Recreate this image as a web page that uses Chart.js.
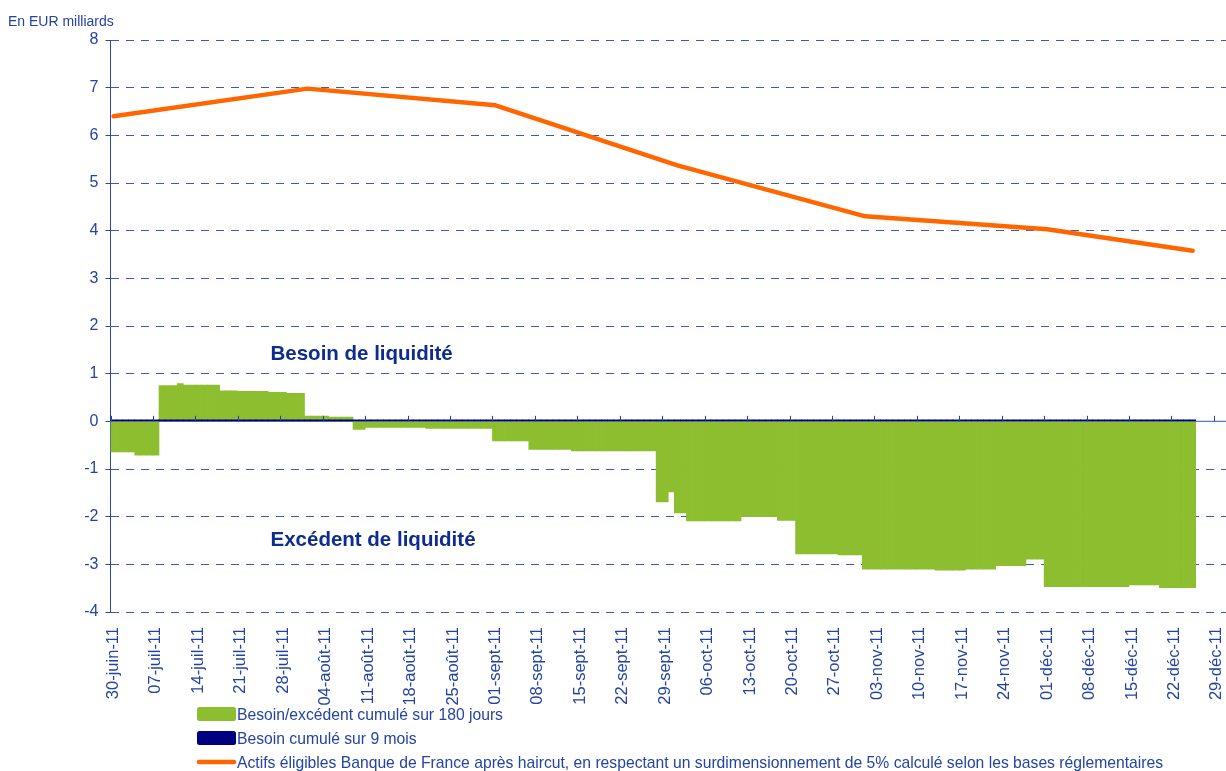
<!DOCTYPE html>
<html>
<head>
<meta charset="utf-8">
<script src="https://cdn.jsdelivr.net/npm/chart.js@4/dist/chart.umd.min.js"></script>
<style>
  html, body { margin: 0; padding: 0; background: #ffffff; }
  #wrap { position: relative; width: 1226px; height: 771px; }
</style>
</head>
<body>
<div id="wrap"><canvas id="c" width="1226" height="771"></canvas></div>
<script>
// ---- DATA ----
// weekly tick labels (every 7th day starting 30-juin-11)
const tickLabels = ["30-juin-11","07-juil-11","14-juil-11","21-juil-11","28-juil-11","04-août-11","11-août-11","18-août-11","25-août-11","01-sept-11","08-sept-11","15-sept-11","22-sept-11","29-sept-11","06-oct-11","13-oct-11","20-oct-11","27-oct-11","03-nov-11","10-nov-11","17-nov-11","24-nov-11","01-déc-11","08-déc-11","15-déc-11","22-déc-11","29-déc-11"];

// daily values, day 0 = 30-juin-11 ... day 178 = 25-déc-11
const besoin180 = [
  -0.64,-0.64,-0.64,-0.64,-0.71,-0.71,-0.71,-0.71,
  0.75,0.75,0.75,0.79,0.76,0.76,0.76,0.76,0.76,0.76,
  0.64,0.64,0.64,0.63,0.63,0.63,0.63,0.63,0.61,0.61,0.61,0.59,0.59,0.59,
  0.11,0.11,0.11,0.11,0.09,0.09,0.09,0.09,
  -0.17,-0.17,
  -0.13,-0.13,-0.13,-0.13,-0.13,-0.13,-0.13,-0.13,-0.13,-0.13,
  -0.15,-0.15,-0.15,-0.15,-0.15,-0.15,-0.15,-0.15,-0.15,-0.15,-0.15,
  -0.41,-0.41,-0.41,-0.41,-0.41,-0.41,
  -0.59,-0.59,-0.59,-0.59,-0.59,-0.59,-0.59,
  -0.62,-0.62,-0.62,-0.62,-0.62,-0.62,-0.62,-0.62,-0.62,-0.62,-0.62,-0.62,-0.62,-0.62,
  -1.69,-1.69,-1.48,-1.92,-1.92,
  -2.09,-2.09,-2.09,-2.09,-2.09,-2.09,-2.09,-2.09,-2.09,
  -2.00,-2.00,-2.00,-2.00,-2.00,-2.00,
  -2.08,-2.08,-2.08,
  -2.78,-2.78,-2.78,-2.78,-2.78,-2.78,-2.78,-2.80,-2.80,-2.80,-2.80,
  -3.10,-3.10,-3.10,-3.10,-3.10,-3.10,-3.10,-3.10,-3.10,-3.10,-3.10,-3.10,
  -3.12,-3.12,-3.12,-3.12,-3.12,
  -3.10,-3.10,-3.10,-3.10,-3.10,
  -3.03,-3.03,-3.03,-3.03,-3.03,
  -2.89,-2.89,-2.89,
  -3.47,-3.47,-3.47,-3.47,-3.47,-3.47,-3.47,-3.47,-3.47,-3.47,-3.47,-3.47,-3.47,-3.47,
  -3.43,-3.43,-3.43,-3.43,-3.43,
  -3.49,-3.49,-3.49,-3.49,-3.49,-3.49
];

const besoin9mois = [
  0.03,0.03,0.03,0.03,0.03,0.03,0.03,0.03,0.03,0.03,0.03,0.03,0.03,0.03,0.03,0.03,0.03,0.03,0.03,0.03,
  0.03,0.03,0.03,0.03,0.03,0.03,0.03,0.03,0.03,0.03,0.03,0.03,0.03,0.03,0.03,0.03,0.03,0.03,0.03,0.03,
  0.03,0.03,0.03,0.03,0.03,0.03,0.03,0.03,0.03,0.03,0.03,0.03,0.03,0.03,0.03,0.03,0.03,0.03,0.03,0.03,
  0.03,0.03,0.03,0.03,0.03,0.03,0.03,0.03,0.03,0.03,0.03,0.03,0.03,0.03,0.03,0.03,0.03,0.03,0.03,0.03,
  0.03,0.03,0.03,0.03,0.03,0.03,0.03,0.03,0.03,0.03,0.03,0.03,0.03,0.03,0.03,0.03,0.03,0.03,0.03,0.03,
  0.03,0.03,0.03,0.03,0.03,0.03,0.03,0.03,0.03,0.03,0.03,0.03,0.03,0.03,0.03,0.03,0.03,0.03,0.03,0.03,
  0.03,0.03,0.03,0.03,0.03,0.03,0.03,0.03,0.03,0.03,0.03,0.03,0.03,0.03,0.03,0.03,0.03,0.03,0.03,0.03,
  0.03,0.03,0.03,0.03,0.03,0.03,0.03,0.03,0.03,0.03,0.03,0.03,0.03,0.03,0.03,0.03,0.03,0.03,0.03,0.03,
  0.03,0.03,0.03,0.03,0.03,0.03,0.03,0.03,0.03,0.03,0.03,0.03,0.03,0.03,0.03,0.03,0.03,0.03,0.03
];

// orange line: day index and value
const actifsDays   = [0, 32, 63, 93, 124, 154, 178];
const actifsValues = [6.40, 6.98, 6.63, 5.37, 4.30, 4.03, 3.58];

const yTickValues = [-4,-3,-2,-1,0,1,2,3,4,5,6,7,8];

const seriesNames = [
  "Besoin/excédent cumulé sur 180 jours",
  "Besoin cumulé sur 9 mois",
  "Actifs éligibles Banque de France après haircut, en respectant un surdimensionnement de 5% calculé selon les bases réglementaires"
];

// ---- STYLE ----
const FONT = '"Liberation Sans", Arial, sans-serif';
const TEXT = '#2543A3';
const BOLD = '#0E2C8E';
const GRID = '#3A5BBE';
const GREEN = '#8DBE30';
const NAVY = '#000080';
const ORANGE = '#FF6600';

const toPts = (arr) => arr.map((v, i) => ({x: i + 0.5, y: v}));

const decor = {
  id: 'decor',
  beforeDatasetsDraw(chart) {
    const {ctx, chartArea: a, scales: {y}} = chart;
    const y0 = y.getPixelForValue(0);
    ctx.save();
    ctx.strokeStyle = '#5B76C6';
    ctx.lineWidth = 1.3;
    ctx.beginPath(); ctx.moveTo(a.left, y0); ctx.lineTo(a.right, y0); ctx.stroke();
    ctx.restore();
  },
  afterDatasetsDraw(chart) {
    const {ctx, scales: {x, y}} = chart;
    const y0 = y.getPixelForValue(0);
    ctx.save();
    ctx.strokeStyle = '#2440A8';
    ctx.lineWidth = 1;
    x.ticks.forEach(t => {
      const px = Math.round(x.getPixelForValue(t.value)) + 0.5;
      ctx.beginPath(); ctx.moveTo(px, y0); ctx.lineTo(px, y0 - 5.5); ctx.stroke();
    });
    ctx.restore();
  },
  afterDraw(chart) {
    const {ctx} = chart;
    ctx.save();
    // unit label
    ctx.fillStyle = TEXT;
    ctx.font = '14px ' + FONT;
    ctx.textBaseline = 'alphabetic';
    ctx.textAlign = 'left';
    ctx.fillText('En EUR milliards', 8, 25.5);
    // annotations
    ctx.fillStyle = BOLD;
    ctx.font = 'bold 20.5px ' + FONT;
    ctx.fillText('Besoin de liquidité', 270.5, 360);
    ctx.fillText('Excédent de liquidité', 270.5, 546);
    // legend (in the order of the reference)
    const byLabel = (name) => chart.data.datasets.find(d => d.label === name);
    const lx = 197, lw = 39;
    ctx.font = '15.7px ' + FONT;
    ctx.textBaseline = 'middle';
    const rows = [715, 739, 763];
    const roundRect = (x0, y0, w, h, r) => {
      ctx.beginPath();
      ctx.moveTo(x0 + r, y0); ctx.lineTo(x0 + w - r, y0); ctx.quadraticCurveTo(x0 + w, y0, x0 + w, y0 + r);
      ctx.lineTo(x0 + w, y0 + h - r); ctx.quadraticCurveTo(x0 + w, y0 + h, x0 + w - r, y0 + h);
      ctx.lineTo(x0 + r, y0 + h); ctx.quadraticCurveTo(x0, y0 + h, x0, y0 + h - r);
      ctx.lineTo(x0, y0 + r); ctx.quadraticCurveTo(x0, y0, x0 + r, y0); ctx.closePath();
    };
    [0, 1].forEach(k => {
      const d = byLabel(seriesNames[k]);
      ctx.fillStyle = d.backgroundColor;
      roundRect(lx, rows[k] - 8, lw, 14, 2.5);
      ctx.fill();
      ctx.fillStyle = TEXT;
      ctx.fillText(d.label, lx + lw + 1, rows[k] + 1);
    });
    const dl = byLabel(seriesNames[2]);
    ctx.strokeStyle = dl.borderColor;
    ctx.lineWidth = 4.5;
    ctx.lineCap = 'round';
    ctx.beginPath(); ctx.moveTo(lx + 2, rows[2] - 1); ctx.lineTo(lx + lw - 2, rows[2] - 1); ctx.stroke();
    ctx.fillStyle = TEXT;
    ctx.fillText(dl.label, lx + lw + 1, rows[2] + 1);
    ctx.restore();
  }
};

new Chart(document.getElementById('c'), {
  type: 'bar',
  data: {
    datasets: [
      {
        type: 'line',
        label: seriesNames[2],
        data: actifsDays.map((d, i) => ({x: d + 0.5, y: actifsValues[i]})),
        borderColor: ORANGE,
        backgroundColor: ORANGE,
        borderWidth: 4.5,
        pointRadius: 0,
        tension: 0,
        borderJoinStyle: 'round',
        borderCapStyle: 'round',
        fill: false,
        order: 0
      },
      {
        label: seriesNames[1],
        data: toPts(besoin9mois),
        backgroundColor: NAVY,
        borderWidth: 0,
        grouped: false,
        barPercentage: 1,
        categoryPercentage: 1,
        order: 1
      },
      {
        label: seriesNames[0],
        data: toPts(besoin180),
        backgroundColor: GREEN,
        borderWidth: 0,
        grouped: false,
        barPercentage: 1,
        categoryPercentage: 1,
        order: 2
      }
    ]
  },
  options: {
    responsive: false,
    animation: false,
    layout: { padding: { top: 40, left: 0, right: 0, bottom: 0 } },
    plugins: { legend: { display: false }, tooltip: { enabled: false }, title: { display: false } },
    scales: {
      x: {
        type: 'linear',
        min: 0,
        max: 184,
        offset: false,
        afterBuildTicks(scale) { scale.ticks = tickLabels.map((_, k) => ({ value: k * 7 })); },
        afterFit(scale) { scale.height = 159; scale.paddingLeft = 0; scale.paddingRight = 0; },
        grid: { display: false, drawTicks: false, drawOnChartArea: false, offset: false },
        border: { display: false },
        ticks: {
          autoSkip: false,
          minRotation: 90,
          maxRotation: 90,
          padding: 15,
          labelOffset: 3,
          color: TEXT,
          font: { family: FONT, size: 16.5 },
          callback(value) { return tickLabels[Math.round(value / 7)]; }
        }
      },
      y: {
        min: -4,
        max: 8,
        afterBuildTicks(scale) { scale.ticks = yTickValues.map(v => ({ value: v })); },
        afterFit(scale) { scale.width = 110.5; },
        grid: {
          color: (c) => (c.tick && c.tick.value === 0) ? 'rgba(0,0,0,0)' : GRID,
          lineWidth: 1,
          drawTicks: true,
          tickLength: 5,
          tickColor: '#2A48B0',
          tickWidth: 1
        },
        border: { display: true, color: '#2A48B0', width: 1, dash: [8, 7] },
        ticks: {
          padding: 7,
          color: TEXT,
          font: { family: FONT, size: 16 },
          callback(value) { return String(value); }
        }
      }
    }
  },
  plugins: [decor]
});
</script>
</body>
</html>
